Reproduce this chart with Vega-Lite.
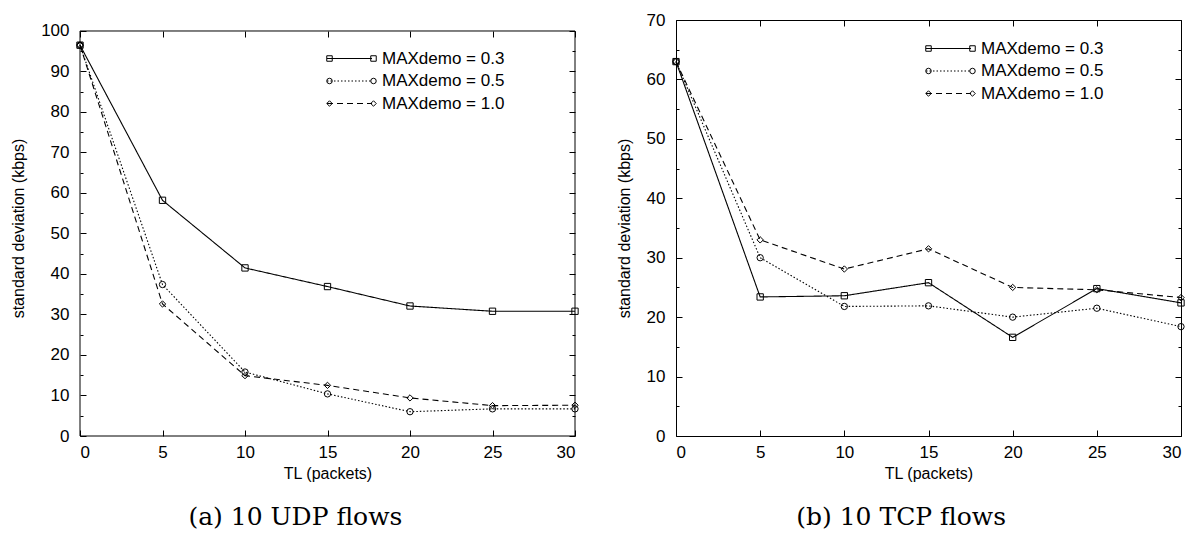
{
  "$schema": "https://vega.github.io/schema/vega-lite/v6.json",
  "background": "white",
  "padding": {"left": 10, "top": 10, "right": 3, "bottom": 0},
  "datasets": {
    "udp": [
      {"TL": 0, "sd": 96.5, "demo": "MAXdemo = 0.3"},
      {"TL": 5, "sd": 58.2, "demo": "MAXdemo = 0.3"},
      {"TL": 10, "sd": 41.5, "demo": "MAXdemo = 0.3"},
      {"TL": 15, "sd": 36.9, "demo": "MAXdemo = 0.3"},
      {"TL": 20, "sd": 32.1, "demo": "MAXdemo = 0.3"},
      {"TL": 25, "sd": 30.8, "demo": "MAXdemo = 0.3"},
      {"TL": 30, "sd": 30.8, "demo": "MAXdemo = 0.3"},
      {"TL": 0, "sd": 96.5, "demo": "MAXdemo = 0.5"},
      {"TL": 5, "sd": 37.4, "demo": "MAXdemo = 0.5"},
      {"TL": 10, "sd": 15.8, "demo": "MAXdemo = 0.5"},
      {"TL": 15, "sd": 10.4, "demo": "MAXdemo = 0.5"},
      {"TL": 20, "sd": 6.0, "demo": "MAXdemo = 0.5"},
      {"TL": 25, "sd": 6.7, "demo": "MAXdemo = 0.5"},
      {"TL": 30, "sd": 6.7, "demo": "MAXdemo = 0.5"},
      {"TL": 0, "sd": 96.5, "demo": "MAXdemo = 1.0"},
      {"TL": 5, "sd": 32.6, "demo": "MAXdemo = 1.0"},
      {"TL": 10, "sd": 14.9, "demo": "MAXdemo = 1.0"},
      {"TL": 15, "sd": 12.5, "demo": "MAXdemo = 1.0"},
      {"TL": 20, "sd": 9.4, "demo": "MAXdemo = 1.0"},
      {"TL": 25, "sd": 7.5, "demo": "MAXdemo = 1.0"},
      {"TL": 30, "sd": 7.6, "demo": "MAXdemo = 1.0"}
    ],
    "tcp": [
      {"TL": 0, "sd": 63.0, "demo": "MAXdemo = 0.3"},
      {"TL": 5, "sd": 23.4, "demo": "MAXdemo = 0.3"},
      {"TL": 10, "sd": 23.6, "demo": "MAXdemo = 0.3"},
      {"TL": 15, "sd": 25.8, "demo": "MAXdemo = 0.3"},
      {"TL": 20, "sd": 16.6, "demo": "MAXdemo = 0.3"},
      {"TL": 25, "sd": 24.8, "demo": "MAXdemo = 0.3"},
      {"TL": 30, "sd": 22.4, "demo": "MAXdemo = 0.3"},
      {"TL": 0, "sd": 63.0, "demo": "MAXdemo = 0.5"},
      {"TL": 5, "sd": 30.0, "demo": "MAXdemo = 0.5"},
      {"TL": 10, "sd": 21.8, "demo": "MAXdemo = 0.5"},
      {"TL": 15, "sd": 21.9, "demo": "MAXdemo = 0.5"},
      {"TL": 20, "sd": 20.0, "demo": "MAXdemo = 0.5"},
      {"TL": 25, "sd": 21.5, "demo": "MAXdemo = 0.5"},
      {"TL": 30, "sd": 18.4, "demo": "MAXdemo = 0.5"},
      {"TL": 0, "sd": 63.0, "demo": "MAXdemo = 1.0"},
      {"TL": 5, "sd": 33.0, "demo": "MAXdemo = 1.0"},
      {"TL": 10, "sd": 28.1, "demo": "MAXdemo = 1.0"},
      {"TL": 15, "sd": 31.5, "demo": "MAXdemo = 1.0"},
      {"TL": 20, "sd": 25.0, "demo": "MAXdemo = 1.0"},
      {"TL": 25, "sd": 24.6, "demo": "MAXdemo = 1.0"},
      {"TL": 30, "sd": 23.3, "demo": "MAXdemo = 1.0"}
    ]
  },
  "config": {
    "view": {"stroke": "black", "strokeWidth": 1},
    "font": "Liberation Sans",
    "axis": {
      "grid": false,
      "domain": false,
      "tickColor": "black",
      "tickSize": -6,
      "labelColor": "black",
      "labelFont": "Liberation Sans",
      "labelFontSize": 17,
      "titleFont": "Liberation Sans",
      "titleFontSize": 16,
      "titleFontWeight": "normal",
      "titleColor": "black"
    },
    "legend": {
      "labelFont": "Liberation Sans",
      "labelFontSize": 17,
      "labelColor": "black",
      "symbolType": "stroke",
      "symbolStrokeColor": "black",
      "symbolStrokeWidth": 1.2,
      "symbolSize": 2025,
      "clipHeight": 17,
      "rowPadding": 4.5,
      "labelOffset": 9
    },
    "title": {
      "font": "DejaVu Serif",
      "fontSize": 25,
      "fontWeight": "normal",
      "color": "black",
      "orient": "bottom",
      "frame": "bounds",
      "offset": 24
    }
  },
  "resolve": {
    "scale": {"x": "independent", "y": "independent", "strokeDash": "independent", "shape": "independent"},
    "legend": {"strokeDash": "independent", "shape": "independent"}
  },
  "spacing": 34,
  "hconcat": [
    {
      "title": {"text": "(a) 10 UDP flows"},
      "width": 495,
      "height": 416,
      "view": {"stroke": null},
      "data": {"name": "udp"},
      "resolve": {"axis": {"x": "independent", "y": "independent"}, "scale": {"shape": "independent"}, "legend": {"strokeDash": "independent", "shape": "independent"}},
      "layer": [
        {
          "data": {"values": [{}]},
          "mark": {"type": "rect", "fill": null, "stroke": "black", "strokeWidth": 1},
          "encoding": {
            "x": {"datum": 0, "type": "quantitative", "axis": null},
            "x2": {"datum": 30},
            "y": {"datum": 0, "type": "quantitative", "axis": null},
            "y2": {"datum": 100}
          }
        },
        {
          "mark": {"type": "line", "color": "black", "strokeWidth": 1.1},
          "encoding": {
            "x": {"field": "TL", "type": "quantitative", "scale": {"domain": [0, 30], "nice": false},
                  "axis": {"orient": "bottom", "values": [0, 5, 10, 15, 20, 25, 30], "title": "TL (packets)", "labelPadding": 14, "titlePadding": 5}},
            "y": {"field": "sd", "type": "quantitative", "scale": {"domain": [0, 102.716], "nice": false, "zero": false},
                  "axis": {"orient": "left", "values": [0, 10, 20, 30, 40, 50, 60, 70, 80, 90, 100], "title": "standard deviation (kbps)", "labelPadding": 17, "titlePadding": 14}},
            "strokeDash": {"field": "demo", "type": "nominal",
              "scale": {"domain": ["MAXdemo = 0.3", "MAXdemo = 0.5", "MAXdemo = 1.0"], "range": [[1, 0], [1.5, 2], [6, 4]]},
              "legend": {"title": null, "orient": "none", "legendX": 246, "legendY": 30, "symbolType": "stroke"}}
          }
        },
        {
          "mark": {"type": "point", "filled": false, "color": "black", "strokeWidth": 1, "opacity": 1},
          "encoding": {
            "x": {"field": "TL", "type": "quantitative", "axis": {"orient": "top", "values": [0, 5, 10, 15, 20, 25, 30], "labels": false, "title": null, "offset": -11}},
            "y": {"field": "sd", "type": "quantitative", "axis": {"orient": "right", "values": [0, 10, 20, 30, 40, 50, 60, 70, 80, 90, 100], "labels": false, "title": null}},
            "shape": {"field": "demo", "type": "nominal",
              "scale": {"domain": ["MAXdemo = 0.3", "MAXdemo = 0.5", "MAXdemo = 1.0"], "range": ["square", "circle", "diamond"]},
              "legend": {"title": null, "orient": "none", "legendX": 241, "legendY": 30, "labelExpr": "''", "labelOpacity": 0, "symbolSize": 30, "symbolStrokeWidth": 1, "symbolFillColor": "transparent", "symbolOpacity": 1}},
            "size": {"value": 40}
          }
        },
        {
          "mark": {"type": "point", "opacity": 0},
          "encoding": {
            "x": {"field": "TL", "type": "quantitative", "axis": null},
            "y": {"field": "sd", "type": "quantitative", "axis": {"orient": "left", "values": [5, 15, 25, 35, 45, 55, 65, 75, 85, 95], "labels": false, "title": null, "tickSize": -3, "offset": 0}}
          }
        },
        {
          "mark": {"type": "point", "filled": false, "color": "black", "opacity": 0},
          "encoding": {
            "x": {"field": "TL", "type": "quantitative", "axis": null},
            "y": {"field": "sd", "type": "quantitative", "axis": {"orient": "right", "values": [5, 15, 25, 35, 45, 55, 65, 75, 85, 95], "labels": false, "title": null, "tickSize": -3, "offset": 0}},
            "shape": {"field": "demo", "type": "nominal",
              "scale": {"domain": ["MAXdemo = 0.3", "MAXdemo = 0.5", "MAXdemo = 1.0"], "range": ["square", "circle", "diamond"]},
              "legend": {"title": null, "orient": "none", "legendX": 285, "legendY": 30, "labelExpr": "''", "labelOpacity": 0, "symbolSize": 30, "symbolStrokeWidth": 1, "symbolFillColor": "transparent", "symbolOpacity": 1}}
          }
        }
      ]
    },
    {
      "title": {"text": "(b) 10 TCP flows"},
      "width": 505,
      "height": 416,
      "data": {"name": "tcp"},
      "resolve": {"axis": {"x": "independent", "y": "independent"}, "scale": {"shape": "independent"}, "legend": {"strokeDash": "independent", "shape": "independent"}},
      "layer": [
        {
          "mark": {"type": "line", "color": "black", "strokeWidth": 1.1},
          "encoding": {
            "x": {"field": "TL", "type": "quantitative", "scale": {"domain": [0, 30], "nice": false},
                  "axis": {"orient": "bottom", "values": [0, 5, 10, 15, 20, 25, 30], "title": "TL (packets)", "labelPadding": 14, "titlePadding": 5}},
            "y": {"field": "sd", "type": "quantitative", "scale": {"domain": [0, 70], "nice": false},
                  "axis": {"orient": "left", "values": [0, 10, 20, 30, 40, 50, 60, 70], "title": "standard deviation (kbps)", "labelPadding": 17, "titlePadding": 14}},
            "strokeDash": {"field": "demo", "type": "nominal",
              "scale": {"domain": ["MAXdemo = 0.3", "MAXdemo = 0.5", "MAXdemo = 1.0"], "range": [[1, 0], [1.5, 2], [6, 4]]},
              "legend": {"title": null, "orient": "none", "legendX": 249, "legendY": 20, "symbolType": "stroke"}}
          }
        },
        {
          "mark": {"type": "point", "filled": false, "color": "black", "strokeWidth": 1, "opacity": 1},
          "encoding": {
            "x": {"field": "TL", "type": "quantitative", "axis": {"orient": "top", "values": [0, 5, 10, 15, 20, 25, 30], "labels": false, "title": null}},
            "y": {"field": "sd", "type": "quantitative", "axis": {"orient": "right", "values": [0, 10, 20, 30, 40, 50, 60, 70], "labels": false, "title": null}},
            "shape": {"field": "demo", "type": "nominal",
              "scale": {"domain": ["MAXdemo = 0.3", "MAXdemo = 0.5", "MAXdemo = 1.0"], "range": ["square", "circle", "diamond"]},
              "legend": {"title": null, "orient": "none", "legendX": 244, "legendY": 20, "labelExpr": "''", "labelOpacity": 0, "symbolSize": 30, "symbolStrokeWidth": 1, "symbolFillColor": "transparent", "symbolOpacity": 1}},
            "size": {"value": 40}
          }
        },
        {
          "mark": {"type": "point", "opacity": 0},
          "encoding": {
            "x": {"field": "TL", "type": "quantitative", "axis": null},
            "y": {"field": "sd", "type": "quantitative", "axis": {"orient": "left", "values": [5, 15, 25, 35, 45, 55, 65], "labels": false, "title": null, "tickSize": -3, "offset": 0}}
          }
        },
        {
          "mark": {"type": "point", "filled": false, "color": "black", "opacity": 0},
          "encoding": {
            "x": {"field": "TL", "type": "quantitative", "axis": null},
            "y": {"field": "sd", "type": "quantitative", "axis": {"orient": "right", "values": [5, 15, 25, 35, 45, 55, 65], "labels": false, "title": null, "tickSize": -3, "offset": 0}},
            "shape": {"field": "demo", "type": "nominal",
              "scale": {"domain": ["MAXdemo = 0.3", "MAXdemo = 0.5", "MAXdemo = 1.0"], "range": ["square", "circle", "diamond"]},
              "legend": {"title": null, "orient": "none", "legendX": 288, "legendY": 20, "labelExpr": "''", "labelOpacity": 0, "symbolSize": 30, "symbolStrokeWidth": 1, "symbolFillColor": "transparent", "symbolOpacity": 1}}
          }
        }
      ]
    }
  ]
}
